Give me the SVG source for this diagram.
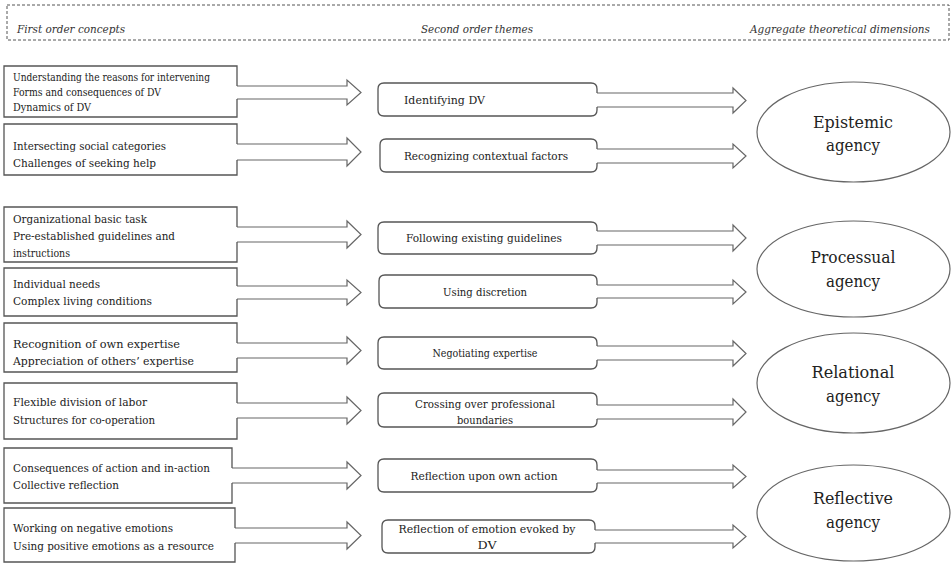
<svg xmlns="http://www.w3.org/2000/svg" width="951" height="563" viewBox="0 0 951 563" font-family="'DejaVu Serif', 'Liberation Serif', serif">
<style>
.bg{fill:#fff}
.hdr{fill:none;stroke:#555;stroke-width:1;stroke-dasharray:3 2}
.ht{font-style:italic;font-size:11px;fill:#333}
.box{fill:none;stroke:#555;stroke-width:1.3}
.arr{fill:#fff;stroke:#666;stroke-width:1.2;stroke-linejoin:miter}
.ell{fill:#fff;stroke:#666;stroke-width:1.2}
.t12{font-size:10.5px;fill:#222}
.t13{font-size:11.5px;fill:#222}
.tm{font-size:11.5px;fill:#222;text-anchor:middle}
.te{font-size:17px;fill:#222;text-anchor:middle}
</style>
<rect class="bg" x="0" y="0" width="951" height="563"/>
<g id="header">
<rect class="hdr" x="7" y="5" width="942" height="35"/>
<text class="ht" x="17" y="33" textLength="108" lengthAdjust="spacingAndGlyphs">First order concepts</text>
<text class="ht" x="421" y="33" textLength="112" lengthAdjust="spacingAndGlyphs">Second order themes</text>
<text class="ht" x="750" y="33" textLength="180" lengthAdjust="spacingAndGlyphs">Aggregate theoretical dimensions</text>
</g>
<g id="connectors">
<path class="arr" d="M237,86 L347,86 L347,80 L361,92.5 L347,105 L347,99 L237,99"/>
<path class="arr" d="M237,144 L347,144 L347,138 L361,152 L347,166 L347,160 L237,160"/>
<path class="arr" d="M237,227 L347,227 L347,221 L361,234.5 L347,248 L347,242 L237,242"/>
<path class="arr" d="M237,286 L347,286 L347,280 L361,292.5 L347,305 L347,299 L237,299"/>
<path class="arr" d="M237,343 L347,343 L347,337 L361,350.5 L347,364 L347,358 L237,358"/>
<path class="arr" d="M237,403 L347,403 L347,397 L361,410.5 L347,424 L347,418 L237,418"/>
<path class="arr" d="M232,468 L347,468 L347,462 L361,475.5 L347,489 L347,483 L232,483"/>
<path class="arr" d="M235,528 L347,528 L347,522 L361,535.5 L347,549 L347,543 L235,543"/>
<path class="arr" d="M597,93 L733,93 L733,88 L746,100.5 L733,113 L733,107 L597,107"/>
<path class="arr" d="M597,149 L733,149 L733,144 L746,156 L733,168 L733,163 L597,163"/>
<path class="arr" d="M597,231 L733,231 L733,225 L746,238 L733,251 L733,245 L597,245"/>
<path class="arr" d="M597,285 L733,285 L733,280 L746,292 L733,304 L733,298 L597,298"/>
<path class="arr" d="M597,346 L733,346 L733,341 L746,353.5 L733,366 L733,360 L597,360"/>
<path class="arr" d="M597,405 L733,405 L733,399 L746,412 L733,425 L733,419 L597,419"/>
<path class="arr" d="M597,470 L733,470 L733,465 L746,476.5 L733,488 L733,483 L597,483"/>
<path class="arr" d="M595,530 L733,530 L733,525 L746,536.5 L733,548 L733,543 L595,543"/>
</g>
<g id="c1">
<path class="box" d="M237,86 L237,66 L4,66 L4,117 L237,117 L237,99"/>
<text class="t12" x="13" y="81" textLength="197" lengthAdjust="spacingAndGlyphs">Understanding the reasons for intervening</text>
<text class="t12" x="13" y="96" textLength="148" lengthAdjust="spacingAndGlyphs">Forms and consequences of DV</text>
<text class="t12" x="13" y="111" textLength="78" lengthAdjust="spacingAndGlyphs">Dynamics of DV</text>
</g>
<g id="c2">
<path class="box" d="M237,144 L237,124 L4,124 L4,175 L237,175 L237,160"/>
<text class="t13" x="13" y="150" textLength="153" lengthAdjust="spacingAndGlyphs">Intersecting social categories</text>
<text class="t13" x="13" y="167" textLength="143" lengthAdjust="spacingAndGlyphs">Challenges of seeking help</text>
</g>
<g id="c3">
<path class="box" d="M237,227 L237,207 L4,207 L4,262 L237,262 L237,242"/>
<text class="t13" x="13" y="223" textLength="134" lengthAdjust="spacingAndGlyphs">Organizational basic task</text>
<text class="t13" x="13" y="240" textLength="162" lengthAdjust="spacingAndGlyphs">Pre-established guidelines and</text>
<text class="t13" x="13" y="257" textLength="57" lengthAdjust="spacingAndGlyphs">instructions</text>
</g>
<g id="c4">
<path class="box" d="M237,286 L237,268 L4,268 L4,316 L237,316 L237,299"/>
<text class="t13" x="13" y="288" textLength="87" lengthAdjust="spacingAndGlyphs">Individual needs</text>
<text class="t13" x="13" y="305" textLength="139" lengthAdjust="spacingAndGlyphs">Complex living conditions</text>
</g>
<g id="c5">
<path class="box" d="M237,343 L237,323 L4,323 L4,372 L237,372 L237,358"/>
<text class="t13" x="13" y="348" textLength="167" lengthAdjust="spacingAndGlyphs">Recognition of own expertise</text>
<text class="t13" x="13" y="365" textLength="181" lengthAdjust="spacingAndGlyphs">Appreciation of others’ expertise</text>
</g>
<g id="c6">
<path class="box" d="M237,403 L237,383 L4,383 L4,439 L237,439 L237,418"/>
<text class="t13" x="13" y="406" textLength="134" lengthAdjust="spacingAndGlyphs">Flexible division of labor</text>
<text class="t13" x="13" y="424" textLength="142" lengthAdjust="spacingAndGlyphs">Structures for co-operation</text>
</g>
<g id="c7">
<path class="box" d="M232,468 L232,448 L4,448 L4,503 L232,503 L232,483"/>
<text class="t13" x="13" y="472" textLength="197" lengthAdjust="spacingAndGlyphs">Consequences of action and in-action</text>
<text class="t13" x="13" y="489" textLength="106" lengthAdjust="spacingAndGlyphs">Collective reflection</text>
</g>
<g id="c8">
<path class="box" d="M235,528 L235,508 L4,508 L4,562 L235,562 L235,543"/>
<text class="t13" x="13" y="532" textLength="160" lengthAdjust="spacingAndGlyphs">Working on negative emotions</text>
<text class="t13" x="13" y="550" textLength="201" lengthAdjust="spacingAndGlyphs">Using positive emotions as a resource</text>
</g>
<g id="s1">
<path class="box" d="M597,93 L597,89 Q597,83 591,83 L384,83 Q378,83 378,89 L378,110 Q378,116 384,116 L591,116 Q597,116 597,110 L597,107"/>
<text class="t13" x="404" y="104" textLength="81" lengthAdjust="spacingAndGlyphs">Identifying DV</text>
</g>
<g id="s2">
<path class="box" d="M597,149 L597,145 Q597,139 591,139 L386,139 Q380,139 380,145 L380,166 Q380,172 386,172 L591,172 Q597,172 597,166 L597,163"/>
<text class="t13" x="404" y="160" textLength="164" lengthAdjust="spacingAndGlyphs">Recognizing contextual factors</text>
</g>
<g id="s3">
<path class="box" d="M597,231 L597,228 Q597,222 591,222 L384,222 Q378,222 378,228 L378,248 Q378,254 384,254 L591,254 Q597,254 597,248 L597,245"/>
<text class="tm" x="484" y="242" textLength="156" lengthAdjust="spacingAndGlyphs">Following existing guidelines</text>
</g>
<g id="s4">
<path class="box" d="M597,285 L597,281 Q597,275 591,275 L385,275 Q379,275 379,281 L379,302 Q379,308 385,308 L591,308 Q597,308 597,302 L597,298"/>
<text class="tm" x="485" y="296" textLength="84" lengthAdjust="spacingAndGlyphs">Using discretion</text>
</g>
<g id="s5">
<path class="box" d="M597,346 L597,343 Q597,337 591,337 L384,337 Q378,337 378,343 L378,363 Q378,369 384,369 L591,369 Q597,369 597,363 L597,360"/>
<text class="tm" x="485" y="357" textLength="105" lengthAdjust="spacingAndGlyphs">Negotiating expertise</text>
</g>
<g id="s6">
<path class="box" d="M597,405 L597,399 Q597,393 591,393 L384,393 Q378,393 378,399 L378,421 Q378,427 384,427 L591,427 Q597,427 597,421 L597,419"/>
<text class="tm" x="485" y="408" textLength="140" lengthAdjust="spacingAndGlyphs">Crossing over professional</text>
<text class="tm" x="485" y="424" textLength="56" lengthAdjust="spacingAndGlyphs">boundaries</text>
</g>
<g id="s7">
<path class="box" d="M597,470 L597,465 Q597,459 591,459 L384,459 Q378,459 378,465 L378,486 Q378,492 384,492 L591,492 Q597,492 597,486 L597,483"/>
<text class="tm" x="484" y="480" textLength="147" lengthAdjust="spacingAndGlyphs">Reflection upon own action</text>
</g>
<g id="s8">
<path class="box" d="M595,530 L595,526 Q595,520 589,520 L388,520 Q382,520 382,526 L382,547 Q382,553 388,553 L589,553 Q595,553 595,547 L595,543"/>
<text class="tm" x="487" y="533" textLength="177" lengthAdjust="spacingAndGlyphs">Reflection of emotion evoked by</text>
<text class="tm" x="487" y="549" textLength="19" lengthAdjust="spacingAndGlyphs">DV</text>
</g>
<g id="d1">
<ellipse class="ell" cx="853.5" cy="132" rx="96.5" ry="50"/>
<text class="te" x="853" y="128" textLength="80" lengthAdjust="spacingAndGlyphs">Epistemic</text>
<text class="te" x="853" y="151" textLength="54" lengthAdjust="spacingAndGlyphs">agency</text>
</g>
<g id="d2">
<ellipse class="ell" cx="853.5" cy="269" rx="96.5" ry="48"/>
<text class="te" x="853" y="263" textLength="85" lengthAdjust="spacingAndGlyphs">Processual</text>
<text class="te" x="853" y="287" textLength="54" lengthAdjust="spacingAndGlyphs">agency</text>
</g>
<g id="d3">
<ellipse class="ell" cx="853.5" cy="383" rx="96.5" ry="50"/>
<text class="te" x="853" y="378" textLength="83" lengthAdjust="spacingAndGlyphs">Relational</text>
<text class="te" x="853" y="402" textLength="54" lengthAdjust="spacingAndGlyphs">agency</text>
</g>
<g id="d4">
<ellipse class="ell" cx="853.5" cy="513" rx="96.5" ry="48"/>
<text class="te" x="853" y="504" textLength="80" lengthAdjust="spacingAndGlyphs">Reflective</text>
<text class="te" x="853" y="528" textLength="54" lengthAdjust="spacingAndGlyphs">agency</text>
</g>
</svg>
